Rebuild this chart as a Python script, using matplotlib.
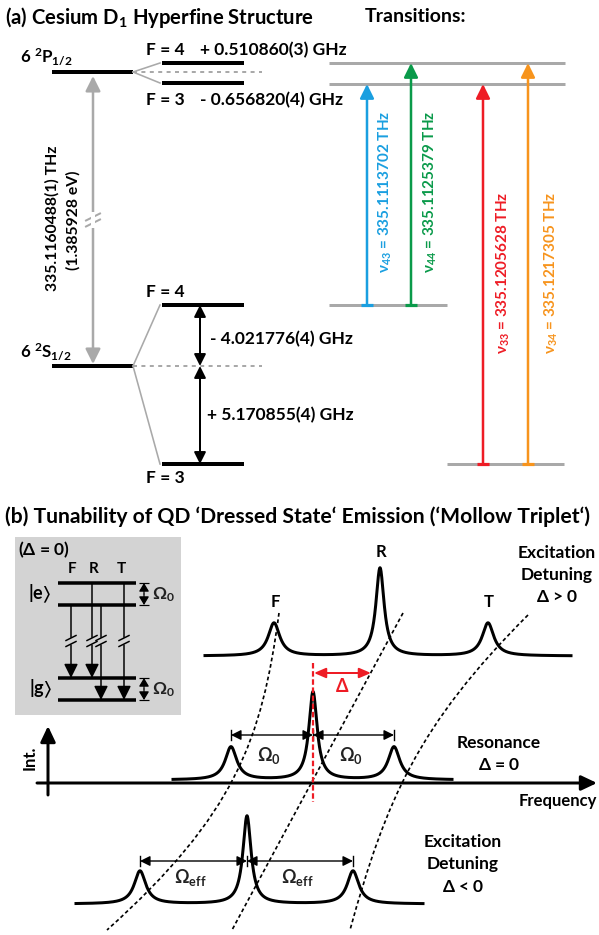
import numpy as np
import matplotlib.pyplot as plt
from matplotlib.patches import Rectangle, PathPatch
from matplotlib.path import Path

plt.rcParams['font.family'] = ['Lato', 'DejaVu Sans']
plt.rcParams['font.weight'] = 'bold'
plt.rcParams['mathtext.fontset'] = 'custom'
plt.rcParams['mathtext.rm'] = 'Lato:bold'
plt.rcParams['mathtext.bf'] = 'Lato:bold'
plt.rcParams['mathtext.it'] = 'Lato:bold:italic'
plt.rcParams['mathtext.fallback'] = 'stix'

# ---------------- (a) Cs D1 hyperfine structure ----------------
fine_x = [52, 133]
fine_P_y = 72
fine_S_y = 366
hf_x = [162, 244]
P_hf_y = [63, 83]            # F=4, F=3
S_hf_y = [305, 464]          # F=4, F=3
split_dash_end = 262
P_hf_labels = ['F = 4', 'F = 3']
P_hf_text = ['+ 0.510860(3) GHz', '- 0.656820(4) GHz']
S_hf_labels = ['F = 4', 'F = 3']
S_hf_text = ['- 4.021776(4) GHz', '+ 5.170855(4) GHz']
d1_freq = '335.1160488(1) THz'
d1_energy = '(1.385928 eV)'

# transitions
tr_names = ['43', '44', '33', '34']
tr_freq = ['335.1113702', '335.1125379', '335.1205628', '335.1217305']
tr_colors = ['#1a9fe0', '#0a9a4a', '#ee1c25', '#f7941d']
tr_x = [367, 411, 483, 528]
tr_lower_y = [305, 305, 464, 464]
tr_upper_y = [84, 63, 84, 63]
tr_label_x = [385, 430, 503, 551]
tr_label_y = [192, 192, 273, 273]
tr_upper_lines = [63, 84]
tr_upper_x = [329, 565]
tr_lower_lines = [(305, 329, 447), (464, 447, 564)]

# ---------------- (b) Mollow triplet ----------------
spec_base_y = [656, 780, 904]          # delta>0, delta=0, delta<0
spec_x_start = [205, 173, 76]
spec_x_end = [571, 452, 423]
peak_F = [274, 231, 140]
peak_R = [380, 313, 247]
peak_T = [488, 394, 353]
side_height = 33
center_height = 88
side_width = 7.0
center_width = 5.0

# dashed guide curves (bezier control points)
guide_F = [(279, 613), (262, 740), (235, 815), (107, 930)]
guide_R = [(403, 613), (346, 719), (289, 824), (232, 930)]
guide_T = [(528, 615), (418, 725), (386, 800), (350, 930)]

# inset box levels
e_levels = [583, 605]
g_levels = [678, 700]
inset_x = [58, 136]
inset_arrows = [(71, 605, 678), (92, 583, 678), (101, 605, 700), (124, 583, 700)]

GRAY = '#a9a9a9'
PX = 0.72   # px -> pt at 100 dpi

fig = plt.figure(figsize=(5.99, 9.35), dpi=100)
ax = fig.add_axes([0, 0, 1, 1])
ax.set_xlim(0, 599)
ax.set_ylim(935, 0)
ax.axis('off')


def hline(y, x0, x1, color='black', lw=3, **kw):
    ax.plot([x0, x1], [y, y], color=color, lw=lw * PX, solid_capstyle='butt', **kw)


def arrow(x0, y0, x1, y1, color='black', lw=2, style='-|>', hl=0.8, hw=0.4):
    ax.annotate('', xy=(x1, y1), xytext=(x0, y0),
                arrowprops=dict(arrowstyle=f'{style},head_length={hl},head_width={hw}',
                                color=color, lw=lw * PX, shrinkA=0, shrinkB=0))


def brk(x, y, color, size=6, gap=3, lw=1.5):
    for dy in (-gap, gap):
        ax.plot([x - size, x + size], [y + dy + size * 0.5, y + dy - size * 0.5],
                color=color, lw=lw * PX)


# ---- titles ----
ax.text(5, 17, '(a) Cesium D$_\\mathbf{1}$ Hyperfine Structure', fontsize=14.6, va='center')
ax.text(365, 17, 'Transitions:', fontsize=14, va='center')

# ---- fine structure levels ----
hline(fine_P_y, *fine_x, lw=4)
hline(fine_S_y, *fine_x, lw=4)
ax.text(20, 57, r'6 $^\mathbf{2}$P$_{\mathbf{1/2}}$', fontsize=12.2, va='center')
ax.text(20, 352, r'6 $^\mathbf{2}$S$_{\mathbf{1/2}}$', fontsize=12.2, va='center')

# optical transition arrow with break
ax_x = 93
arrow(ax_x, 218, ax_x, 76, color=GRAY, lw=2.5, hl=0.9, hw=0.45)
arrow(ax_x, 222, ax_x, 364, color=GRAY, lw=2.5, hl=0.9, hw=0.45)
ax.plot([ax_x, ax_x], [214, 226], color='white', lw=4 * PX, zorder=3)
brk(ax_x, 220, GRAY, size=7, gap=3, lw=2)
ax.text(52, 218, d1_freq, rotation=90, ha='center', va='center', fontsize=11.3)
ax.text(73, 220, d1_energy, rotation=90, ha='center', va='center', fontsize=11.3)

# hyperfine levels
for y_f, y_list in ((fine_P_y, P_hf_y), (fine_S_y, S_hf_y)):
    for y in y_list:
        ax.plot([fine_x[1], hf_x[0] - 2], [y_f, y], color=GRAY, lw=1.6 * PX)
        hline(y, *hf_x, lw=4)
    ax.plot([fine_x[1], split_dash_end], [y_f, y_f], color=GRAY, lw=2 * PX,
            dashes=(2, 2.2))

for y, lab, txt in zip((50, 100), P_hf_labels, P_hf_text):
    ax.text(165, y, lab, ha='center', va='center', fontsize=12.5)
    ax.text(200, y, txt, ha='left', va='center', fontsize=12.5)

ax.text(165, 292, S_hf_labels[0], ha='center', va='center', fontsize=12.5)
ax.text(165, 478, S_hf_labels[1], ha='center', va='center', fontsize=12.5)
arrow(200, fine_S_y, 200, S_hf_y[0], style='<|-|>', lw=2, hl=0.7, hw=0.35)
arrow(200, fine_S_y, 200, S_hf_y[1], style='<|-|>', lw=2, hl=0.7, hw=0.35)
ax.text(210, 339, S_hf_text[0], ha='left', va='center', fontsize=12.5)
ax.text(207, 415, S_hf_text[1], ha='left', va='center', fontsize=12.5)

# transitions panel
for y in tr_upper_lines:
    hline(y, *tr_upper_x, color=GRAY, lw=3)
for y, x0, x1 in tr_lower_lines:
    hline(y, x0, x1, color=GRAY, lw=3)
for name, f, c, x, y0, y1, lx, ly in zip(tr_names, tr_freq, tr_colors, tr_x,
                                           tr_lower_y, tr_upper_y, tr_label_x, tr_label_y):
    hline(y0, x - 6, x + 6, color=c, lw=3.2)
    arrow(x, y0, x, y1, color=c, lw=2.5, hl=0.85, hw=0.42)
    ax.text(lx, ly, r'$\mathrm{\nu}_{%s}$ = %s THz' % (name, f), rotation=90,
            ha='center', va='center', color=c, fontsize=11)

# ---------------- (b) ----------------
ax.text(5, 517, '(b) Tunability of QD \u2018Dressed State\u2018 Emission (\u2018Mollow Triplet\u2018)',
        fontsize=15.2, va='center')

# inset box
ax.add_patch(Rectangle((15, 537), 166, 178, facecolor='#d3d3d3', edgecolor='none'))
ax.text(18, 550, r'($\Delta$ = 0)', fontsize=12.5, va='center')
for x, lab in zip((72, 94, 121), ('F', 'R', 'T')):
    ax.text(x, 569, lab, ha='center', va='center', fontsize=11)
for y in e_levels + g_levels:
    hline(y, *inset_x, lw=3.5)
ax.text(40, 594, r'$|\mathrm{e}\rangle$', ha='center', va='center', fontsize=13)
ax.text(40, 689, r'$|\mathrm{g}\rangle$', ha='center', va='center', fontsize=13)
for x, y0, y1 in inset_arrows:
    ax.plot([x, x], [y0, 637], color='black', lw=1.5 * PX)
    arrow(x, 645, x, y1, lw=1.5, hl=0.85, hw=0.42)
    brk(x, 641, 'black', size=5, gap=3, lw=1.5)
for y0, y1 in (e_levels, g_levels):
    arrow(144, (y0 + y1) / 2, 144, y0, lw=1.2, hl=0.5, hw=0.3)
    arrow(144, (y0 + y1) / 2, 144, y1, lw=1.2, hl=0.5, hw=0.3)
    hline(y0, 139, 149, lw=1.2)
    hline(y1, 139, 149, lw=1.2)
    ax.text(152, (y0 + y1) / 2 + 1, r'$\Omega_\mathrm{0}$', ha='left', va='center',
            fontsize=12.5, fontweight='normal', color='#222222')

# intensity / frequency axes
arrow(37, 783, 597, 783, lw=3, hl=0.95, hw=0.45)
arrow(48, 795, 48, 726, lw=3, hl=0.95, hw=0.45)
ax.text(30, 758, 'Int.', rotation=90, ha='center', va='center', fontsize=12)
ax.text(597, 801, 'Frequency', ha='right', va='center', fontsize=12)

# spectra
for base, xs, xe, pf, pr, pt in zip(spec_base_y, spec_x_start, spec_x_end,
                                    peak_F, peak_R, peak_T):
    x = np.linspace(xs, xe, 1500)
    y = (side_height / (1 + ((x - pf) / side_width) ** 2)
         + center_height / (1 + ((x - pr) / center_width) ** 2)
         + side_height / (1 + ((x - pt) / side_width) ** 2))
    ax.plot(x, base - y, color='black', lw=3 * PX, zorder=4)

# peak labels (top spectrum)
for x, y, lab in ((peak_F[0], 602, 'F'), (peak_R[0], 552, 'R'), (peak_T[0], 602, 'T')):
    ax.text(x + 1, y, lab, ha='center', va='center', fontsize=12)

# guide curves
for pts in (guide_F, guide_R, guide_T):
    path = Path(pts, [Path.MOVETO, Path.CURVE4, Path.CURVE4, Path.CURVE4])
    ax.add_patch(PathPatch(path, facecolor='none', edgecolor='black', lw=1.7 * PX,
                           linestyle=(0, (2.2, 1.6)), zorder=5))

# detuning marker
ax.plot([peak_R[1], peak_R[1]], [663, 802], color='#ee1c25', lw=2.2 * PX,
        dashes=(2.5, 1.2), zorder=6)
arrow(peak_R[1] + 1, 673, 371, 673, color='#ee1c25', style='<|-|>', lw=2, hl=0.7, hw=0.3)
ax.text(342, 686, r'$\Delta$', color='#ee1c25', ha='center', va='center',
        fontsize=13, fontweight='normal')

# Rabi splitting markers
for y, xs, lab, ly in ((735, (peak_F[1], peak_R[1], peak_T[1]), r'$\Omega_\mathrm{0}$', 755),
                       (861, (peak_F[2], peak_R[2], peak_T[2]), r'$\Omega_\mathrm{eff}$', 877)):
    for xa, xb in ((xs[0], xs[1]), (xs[1], xs[2])):
        arrow(xa, y, xb, y, style='<|-|>', lw=1.4, hl=0.6, hw=0.3)
        ax.text((xa + xb) / 2 - 3, ly, lab, ha='center', va='center', fontsize=13,
                fontweight='normal', color='#222222')
    for xv in xs:
        ax.plot([xv, xv], [y - 5, y + 5], color='black', lw=1.4 * PX)

# spectrum annotations
for x, ys, lines in ((557, (553, 575, 597), ('Excitation', 'Detuning', r'$\Delta$ > 0')),
                     (499, (743, 765), ('Resonance', r'$\Delta$ = 0')),
                     (463, (842, 864, 887), ('Excitation', 'Detuning', r'$\Delta$ < 0'))):
    for y, s in zip(ys, lines):
        ax.text(x, y, s, ha='center', va='center', fontsize=12.5)

fig.savefig('out.png', dpi=100)
